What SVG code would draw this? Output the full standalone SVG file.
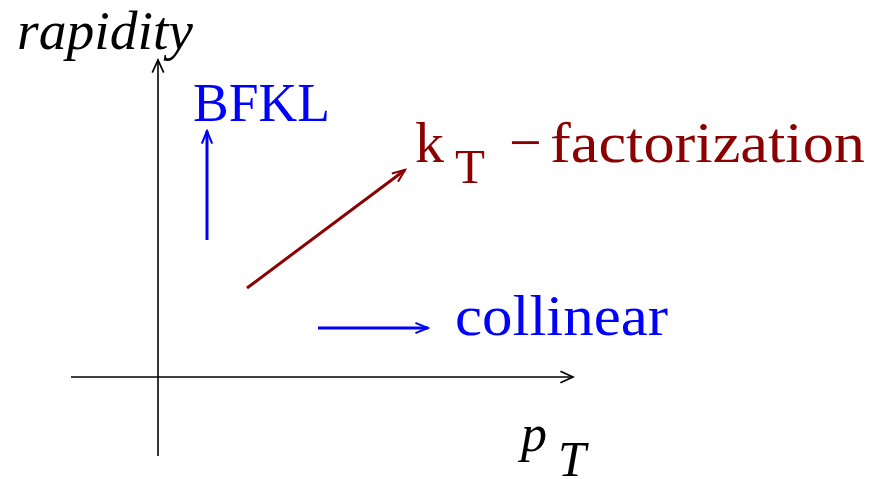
<svg xmlns="http://www.w3.org/2000/svg" width="871" height="479" viewBox="0 0 871 479">
<style>
.serif{font-family:"Liberation Serif","Times New Roman",serif}
.it{font-style:italic}
.blk{fill:#000}
.blue{fill:#0000ff}
.red{fill:#8b0000}
</style>
<defs>
<marker id="hk" markerUnits="userSpaceOnUse" markerWidth="16" markerHeight="16" refX="12" refY="6" orient="auto" viewBox="0 0 14 12">
<path d="M1,1 L12,6 L1,11" fill="none" stroke="#000" stroke-width="1.5"/>
</marker>
<marker id="hb" markerUnits="userSpaceOnUse" markerWidth="16" markerHeight="16" refX="12" refY="6" orient="auto" viewBox="0 0 14 12">
<path d="M1,1.5 L12,6 L1,10.5" fill="none" stroke="#0000ff" stroke-width="1.8"/>
</marker>
<marker id="hr" markerUnits="userSpaceOnUse" markerWidth="16" markerHeight="16" refX="12" refY="6" orient="auto" viewBox="0 0 14 12">
<path d="M1,1.5 L12,6 L1,10.5" fill="none" stroke="#8b0000" stroke-width="1.8"/>
</marker>
</defs>
<g id="connectors" fill="none">
<line x1="158" y1="456" x2="158" y2="60" stroke="#000" stroke-width="1.6" marker-end="url(#hk)"/>
<line x1="71" y1="377" x2="573" y2="377" stroke="#000" stroke-width="1.6" marker-end="url(#hk)"/>
<line x1="207" y1="240" x2="207" y2="131" stroke="#0000ff" stroke-width="3" marker-end="url(#hb)"/>
<line x1="247" y1="288" x2="405" y2="170" stroke="#8b0000" stroke-width="3" marker-end="url(#hr)"/>
<line x1="318" y1="328" x2="428" y2="328" stroke="#0000ff" stroke-width="3" marker-end="url(#hb)"/>
</g>
<g id="rapidity"><text class="serif it blk" x="17" y="49" font-size="54" textLength="176" lengthAdjust="spacingAndGlyphs">rapidity</text></g>
<g id="pT"><text class="serif it blk" font-size="52"><tspan x="521" y="451">p</tspan><tspan x="558" y="476" font-size="50">T</tspan></text></g>
<g id="BFKL"><text class="serif blue" x="193" y="121" font-size="54" textLength="137" lengthAdjust="spacingAndGlyphs">BFKL</text></g>
<g id="kt-factorization"><text class="serif red" font-size="58"><tspan x="415" y="162">k</tspan><tspan x="455" y="183" font-size="49">T</tspan><tspan x="509" y="162">−</tspan><tspan x="550" y="162" textLength="315" lengthAdjust="spacingAndGlyphs">factorization</tspan></text></g>
<g id="collinear"><text class="serif blue" x="455" y="335" font-size="56" textLength="213" lengthAdjust="spacingAndGlyphs">collinear</text></g>
</svg>
